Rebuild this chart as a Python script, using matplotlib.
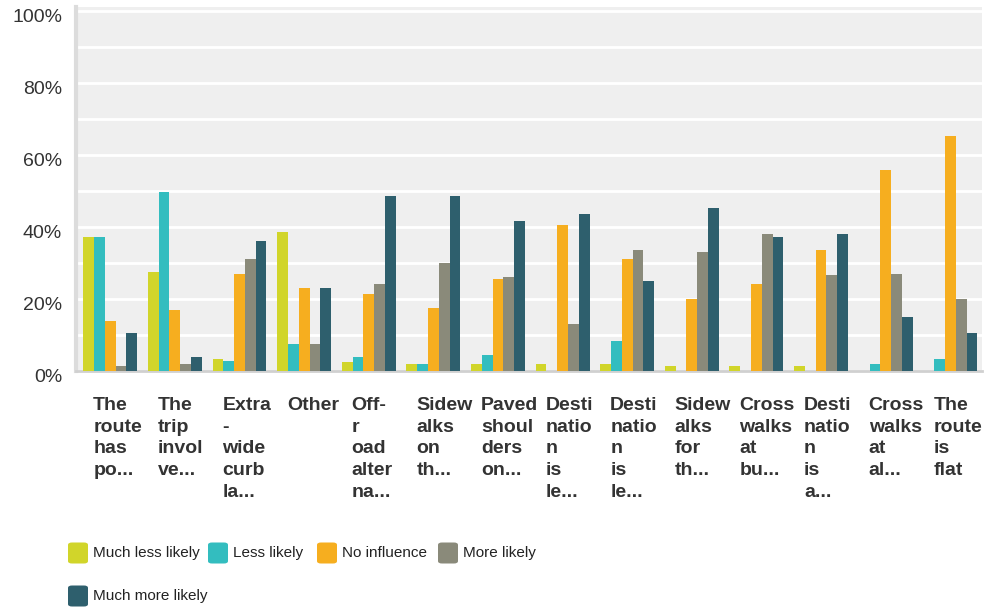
import numpy as np
import matplotlib.pyplot as plt
import matplotlib.transforms as mtransforms
from matplotlib.patches import FancyBboxPatch
from matplotlib.ticker import MultipleLocator, FuncFormatter

# survey answers, percent of respondents per route feature
labels = ["The\nroute\nhas\npo...", "The\ntrip\ninvol\nve...", "Extra\n-\nwide\ncurb\nla...",
          "Other", "Off-\nr\noad\nalter\nna...", "Sidew\nalks\non\nth...",
          "Paved\nshoul\nders\non...", "Desti\nnatio\nn\nis\nle...", "Desti\nnatio\nn\nis\nle...",
          "Sidew\nalks\nfor\nth...", "Cross\nwalks\nat\nbu...", "Desti\nnatio\nn\nis\na...",
          "Cross\nwalks\nat\nal...", "The\nroute\nis\nflat"]
series_names = ["Much less likely", "Less likely", "No influence", "More likely", "Much more likely"]
much_less = [37.2, 27.5, 3.3, 38.6, 2.5, 1.9, 1.9, 1.9, 1.9, 1.4, 1.4, 1.4, 0, 0]
less = [37.2, 49.7, 2.8, 7.5, 3.9, 1.9, 4.4, 0, 8.3, 0, 0, 0, 1.9, 3.3]
no_influence = [13.9, 16.9, 26.9, 23.0, 21.4, 17.5, 25.6, 40.6, 31.1, 20.0, 24.2, 33.6, 55.8, 65.3]
more = [1.4, 1.9, 31.1, 7.5, 24.2, 30.0, 26.1, 13.1, 33.6, 33.1, 38.1, 26.7, 26.9, 20.0]
much_more = [10.6, 3.9, 36.1, 23.0, 48.6, 48.6, 41.7, 43.6, 25.0, 45.3, 37.2, 38.1, 15.0, 10.6]

colors = ["#d1d52a", "#33bdbf", "#f6ae1f", "#8a8a7a", "#2e5f6d"]
values = [much_less, less, no_influence, more, much_more]

plt.rcParams['font.family'] = ['Liberation Sans', 'DejaVu Sans']

fig = plt.figure(figsize=(9.87, 6.09), dpi=100)
ax = fig.add_axes([76 / 987, 238 / 609, 906 / 987, 364 / 609])
ax.set_facecolor("#efefef")

x = np.arange(len(labels))
w = 0.167
for i, (vals, c) in enumerate(zip(values, colors)):
    ax.bar(x + (i - 2) * w, vals, width=w, color=c, zorder=3)

ax.set_xlim(-0.53, 13.49)
ax.set_ylim(0, 101)
ax.yaxis.set_major_locator(MultipleLocator(20))
ax.yaxis.set_minor_locator(MultipleLocator(10))
ax.yaxis.set_major_formatter(FuncFormatter(lambda v, p: f"{v:.0f}%"))
ax.grid(axis='y', which='both', color='white', linewidth=2, zorder=1)
ax.tick_params(axis='y', which='both', length=0, pad=10, labelsize=14, labelcolor="#333333")
ax.set_xticks([])

# nudge the percent labels a little below their gridlines
shift = mtransforms.ScaledTranslation(0, -5 / 100, fig.dpi_scale_trans)
for lbl in ax.get_yticklabels():
    lbl.set_transform(lbl.get_transform() + shift)

for s in ['top', 'right']:
    ax.spines[s].set_visible(False)
ax.spines['left'].set_color("#dcdcdc")
ax.spines['left'].set_linewidth(3)
ax.spines['bottom'].set_color("#d0d0d0")
ax.spines['bottom'].set_linewidth(2)

# category labels, left aligned blocks under each group
off = mtransforms.ScaledTranslation(-17 / 100, -26 / 100, fig.dpi_scale_trans)
trans = mtransforms.blended_transform_factory(ax.transData, ax.transAxes) + off
for xi, lab in zip(x, labels):
    ax.text(xi, 0, lab, transform=trans, ha='left', va='top', fontsize=14,
            fontweight='bold', color="#333333", linespacing=1.36)

# legend swatches, two rows under the chart (pixel positions)
legend_pos = [(68, 553), (208, 553), (317, 553), (438, 553), (68, 596)]
for (px, py), name, c in zip(legend_pos, series_names, colors):
    yf = (609 - py) / 609
    sq = FancyBboxPatch((px / 987, yf - 10.5 / 609), 20 / 987, 21 / 609,
                        boxstyle="round,pad=0,rounding_size=0.004",
                        transform=fig.transFigure, facecolor=c, edgecolor='none')
    fig.patches.append(sq)
    fig.text((px + 25) / 987, yf, name, ha='left', va='center', fontsize=11,
             color="#222222")

fig.savefig("out.png", dpi=100)
